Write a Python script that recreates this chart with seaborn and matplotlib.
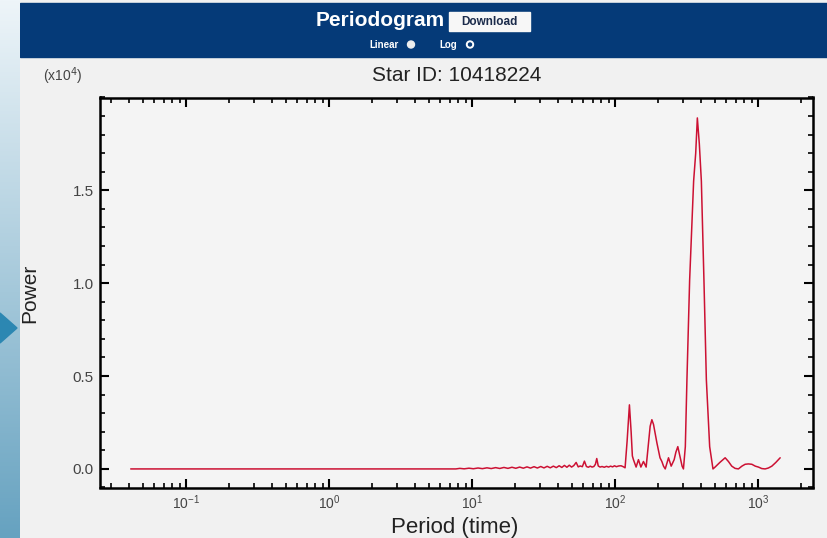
import numpy as np
import matplotlib
matplotlib.use("Agg")
import matplotlib.pyplot as plt
import seaborn as sns
from matplotlib.patches import Rectangle, Polygon, Circle
from matplotlib.ticker import MultipleLocator, LogLocator, NullFormatter, FuncFormatter

# ---- periodogram data: period (time units) and power ----
period = [
    0.041, 0.06, 0.1, 0.2, 0.5, 1.0, 2.0, 4.0, 7.7,
    8.2, 8.8, 9.5, 10.2, 11.0, 11.8, 12.7, 13.6, 14.6, 15.6,
    16.7, 17.8, 19.0, 20.2, 21.5, 22.8, 24.2, 25.6, 27.1, 28.6,
    30.2, 31.8, 33.5, 35.2, 37.0, 38.8, 40.6, 42.4, 44.2, 46.0,
    47.8, 49.6, 51.4, 53.4, 55.2, 57.0, 59.0, 61.0, 63.0, 65.0,
    67.0, 69.0, 71.0, 72.8, 74.4, 76.2, 78.5, 81.0, 84.0, 87.0,
    90.0, 93.0, 96.0, 99.0, 102.0, 106.0, 110.0, 114.0, 117.4,
    121.3, 125.9, 129.4, 132.0, 134.3, 140.2, 145.6, 151.4, 157.8,
    164.8, 170.2, 175.8, 180.7, 185.5, 190.6, 196.0, 201.0, 206.0,
    212.3, 218.0, 224.1, 236.2, 246.6, 258.8, 266.0, 274.4, 280.0,
    287.8, 294.0, 300.4, 309.7, 317.8, 331.9, 354.0, 366.0, 375.8,
    388.0, 400.9, 418.0, 434.5, 458.3, 483.4, 500.0, 540.0, 588.0,
    620.0, 654.0, 690.0, 728.0, 770.0, 811.0, 855.0, 904.0, 955.0,
    1005.0, 1060.0, 1119.0, 1180.0, 1247.0, 1330.0, 1426.0,
]
power = [
    0, 0, 0, 0, 0, 0, 0, 0, 0,
    30, 5, 40, 10, 50, 15, 60, 20, 70, 25,
    80, 30, 90, 35, 100, 40, 110, 45, 120, 50,
    130, 55, 140, 60, 150, 70, 170, 80, 190, 90,
    200, 100, 180, 350, 110, 160, 120, 420, 130, 90,
    150, 100, 130, 250, 560, 160, 100, 130, 90, 140,
    100, 150, 110, 170, 120, 160, 170, 120, 60,
    1500, 3450, 2000, 700, 500, 100, 500, 100, 400,
    100, 1200, 2300, 2650, 2400, 1900, 1400, 1000, 600,
    400, 150, 0, 600, 150, 500, 900, 1200, 900,
    500, 150, 0, 1200, 4800, 10150, 15500, 17000, 18900,
    17500, 15500, 10150, 4800, 1200, 0, 100, 350, 600,
    400, 150, 30, 0, 150, 250, 270, 250, 150,
    100, 20, 0, 50, 150, 350, 600,
]

y_major = [0, 5000, 10000, 15000]

W, H = 827, 538
NAVY = "#053a78"


def fx(px):
    return px / W


def fy(py):
    return 1 - py / H


sns.set_theme(style="ticks")
plt.rcParams["font.family"] = ["Liberation Sans", "DejaVu Sans"]

fig = plt.figure(figsize=(W / 100, H / 100), dpi=100)
fig.patch.set_facecolor("#f1f1f1")

# page header band
fig.add_artist(Rectangle((fx(20), fy(57)), fx(W - 20), 54 / H,
                         transform=fig.transFigure, color=NAVY, zorder=0))
fig.text(fx(380), fy(20), "Periodogram", color="white", fontsize=15,
         fontweight="bold", family=["Liberation Sans Narrow", "Liberation Sans"],
         ha="center", va="center")
fig.add_artist(Rectangle((fx(449), fy(31)), fx(81), 19 / H,
                         transform=fig.transFigure, color="#f7f7f7", zorder=1))
fig.text(fx(489.5), fy(22), "Download", color="#1b2b4b", fontsize=8.5,
         fontweight="bold", ha="center", va="center", zorder=2)
fig.text(fx(384), fy(45), "Linear", color="white", fontsize=7,
         fontweight="bold", ha="center", va="center")
fig.text(fx(448), fy(45), "Log", color="white", fontsize=7,
         fontweight="bold", ha="center", va="center")
fig.add_artist(Circle((411 / 100, (H - 44.5) / 100), 0.035,
                      transform=fig.dpi_scale_trans, color="#eeeeee"))
fig.add_artist(Circle((470 / 100, (H - 44.5) / 100), 0.035,
                      transform=fig.dpi_scale_trans, color="white"))
fig.add_artist(Circle((470 / 100, (H - 44.5) / 100), 0.015,
                      transform=fig.dpi_scale_trans, color=NAVY))

# left side navigation strip with arrow
ax_strip = fig.add_axes([0, 0, fx(20), 1])
top_c = np.array(matplotlib.colors.to_rgb("#eef5f9"))
bot_c = np.array(matplotlib.colors.to_rgb("#66a2c0"))
t = np.linspace(0, 1, 256)[:, None, None]
ax_strip.imshow(top_c * (1 - t) + bot_c * t, aspect="auto")
ax_strip.axis("off")
fig.add_artist(Polygon([(0, fy(313)), (0, fy(343)), (fx(17), fy(328))],
                       closed=True, transform=fig.transFigure,
                       color="#2c87b2", zorder=5))

# periodogram axes
ax = fig.add_axes([fx(99.5), fy(487.5), fx(713), 390 / H])
ax.set_facecolor("#f4f4f4")
sns.lineplot(x=period, y=power, ax=ax, color="#cc1133", linewidth=1.1,
             sort=False, estimator=None)

ax.set_xscale("log")
ax.set_xlim(0.0248, 2400)
ax.set_ylim(-1000, 20000)
ax.set_xlabel("")
ax.set_ylabel("")

ax.yaxis.set_major_locator(matplotlib.ticker.FixedLocator(y_major))
ax.yaxis.set_minor_locator(MultipleLocator(1000))
ax.yaxis.set_major_formatter(FuncFormatter(lambda v, _: f"{v / 1e4:.1f}"))
ax.xaxis.set_major_locator(LogLocator(base=10, numticks=20))
ax.xaxis.set_minor_locator(LogLocator(base=10, subs=np.arange(2, 10), numticks=40))
ax.xaxis.set_minor_formatter(NullFormatter())

ax.tick_params(which="both", direction="in", top=True, right=True,
               color="black", labelcolor="#444444", pad=4)
ax.tick_params(which="major", length=6.5, width=1.5)
ax.tick_params(which="minor", length=3.5, width=1.2)
ax.tick_params(axis="y", labelsize=11)
ax.tick_params(axis="x", labelsize=10)
for sp in ax.spines.values():
    sp.set_color("black")
    sp.set_linewidth(1.8)
    sp.set_visible(True)

# titles and axis labels
fig.text(fx(456.5), fy(75), "Star ID: 10418224", ha="center", va="center",
         fontsize=15, color="#222222")
fig.text(fx(63), fy(76), r"(x10$^4$)", ha="center", va="center",
         fontsize=10, color="#444444")
fig.text(fx(30), fy(293), "Power", rotation=90, ha="center", va="center",
         fontsize=15, color="#222222")
fig.text(fx(455), fy(528), "Period (time)", ha="center", va="center",
         fontsize=16, color="#222222")

fig.savefig("out.png", dpi=100, facecolor=fig.get_facecolor())
